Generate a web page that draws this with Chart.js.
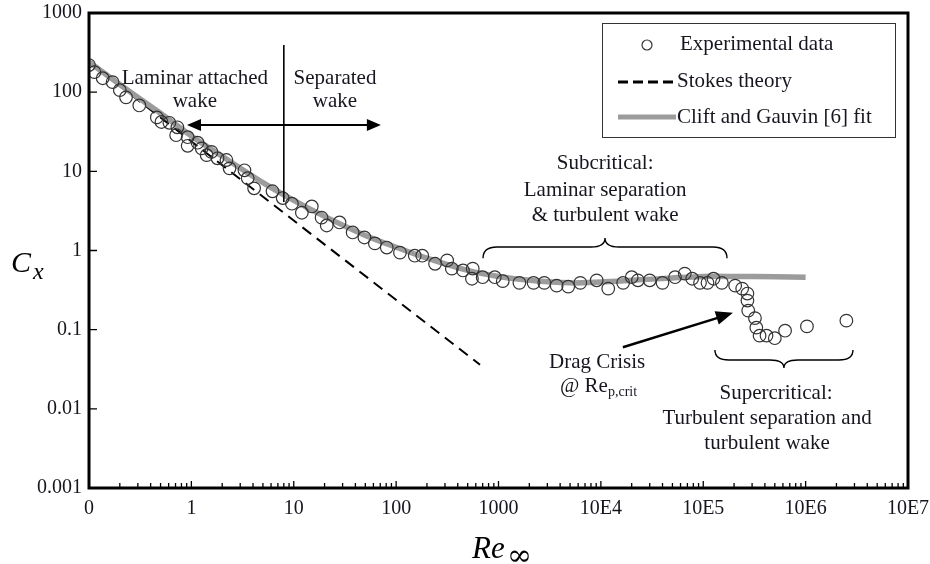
<!DOCTYPE html>
<html>
<head>
<meta charset="utf-8">
<script src="https://cdn.jsdelivr.net/npm/chart.js@4.4.1/dist/chart.umd.min.js"></script>
<style>
    html, body { margin: 0; background: #fff; }
    #wrap { width: 930px; height: 564px; position: relative; }
</style>
</head>
<body>
<div id="wrap"><canvas id="chart"></canvas></div>
<script>
const expRe = [0.1, 0.113, 0.136, 0.17, 0.2, 0.23, 0.31, 0.46, 0.51, 0.61, 0.73, 0.71, 0.92, 0.92, 1.15, 1.26, 1.57, 1.41,
    1.8, 2.2, 2.36, 3.3, 3.55, 4.1, 6.2, 7.8, 9.6, 12, 15, 18.7, 21, 28, 37.6, 49, 62, 81, 109, 152, 180, 240, 315, 350,
    450, 560, 550, 700, 920, 1100, 1600, 2200, 2800, 3700, 4800, 6300, 9100, 11800, 16500, 20000, 23000, 30000, 40000,
    53000, 66000, 78000, 93000, 110000, 126000, 152000, 205000, 240000, 270000, 270000, 275000, 320000, 330000, 355000,
    415000, 500000, 630000, 1030000, 2500000];
const expCx = [220, 179, 150, 134, 106, 86, 68, 48, 42, 41, 36, 28.6, 27, 21, 23, 19.5, 17.6, 16,
    14.6, 13.9, 10.9, 10.3, 8.2, 6.1, 5.6, 4.6, 3.9, 3.0, 3.6, 2.6, 2.07, 2.26, 1.69, 1.46, 1.23, 1.09, 0.94, 0.86, 0.86, 0.68, 0.75, 0.59,
    0.56, 0.59, 0.44, 0.46, 0.46, 0.41, 0.39, 0.39, 0.39, 0.36, 0.35, 0.39, 0.42, 0.33, 0.39, 0.46, 0.42, 0.42, 0.39,
    0.46, 0.51, 0.44, 0.39, 0.39, 0.44, 0.39, 0.36, 0.33, 0.286, 0.233, 0.174, 0.14, 0.106, 0.084,
    0.084, 0.078, 0.097, 0.11, 0.13];

// Stokes theory (dashed)
const stokesRe = [0.1, 660];
const stokesCx = [240, 0.036];

// Clift and Gauvin fit (grey)
const fitRe = [0.1, 0.2, 0.5, 1, 2, 5, 10, 20, 50, 100, 200, 500, 1000, 2000, 5000, 10000, 20000, 50000, 100000, 200000, 500000, 1000000];
const fitCx = [240, 125, 54, 28, 15.5, 7.2, 4.3, 2.7, 1.55, 1.1, 0.8, 0.56, 0.47, 0.42, 0.39, 0.40, 0.42, 0.45, 0.47, 0.47, 0.465, 0.46];

// Axis ticks
const xTickValues = [0.1, 1, 10, 100, 1000, 1e4, 1e5, 1e6, 1e7];
const xTickLabels = ['0', '1', '10', '100', '1000', '10E4', '10E5', '10E6', '10E7'];
const yTickValues = [0.001, 0.01, 0.1, 1, 10, 100, 1000];
const yTickLabels = ['0.001', '0.01', '0.1', '1', '10', '100', '1000'];

const FONT = '"Liberation Serif", "DejaVu Serif", serif';
const TEXT = '#16161f';

const toPoints = (xs, ys) => xs.map((x, i) => ({ x: x, y: ys[i] }));

// Frame, inner ticks and axis titles
const framePlugin = {
    id: 'frame',
    afterDraw(chart) {
        const { ctx, chartArea: a, scales } = chart;
        ctx.save();
        ctx.strokeStyle = '#000';
        ctx.lineWidth = 1.3;
        ctx.beginPath();
        // x ticks, major + minor, pointing inwards
        xTickValues.forEach((v, i) => {
            const px = scales.x.getPixelForValue(v);
            ctx.moveTo(px, a.bottom);
            ctx.lineTo(px, a.bottom - 7);
            if (i < xTickValues.length - 1) {
                for (let m = 2; m <= 9; m++) {
                    const mx = scales.x.getPixelForValue(v * m);
                    ctx.moveTo(mx, a.bottom);
                    ctx.lineTo(mx, a.bottom - 5);
                }
            }
        });
        // y ticks
        yTickValues.forEach(v => {
            const py = scales.y.getPixelForValue(v);
            ctx.moveTo(a.left, py);
            ctx.lineTo(a.left + 8, py);
        });
        ctx.stroke();

        ctx.lineWidth = 3;
        ctx.strokeRect(a.left, a.top, a.right - a.left, a.bottom - a.top);

        // axis titles
        ctx.fillStyle = '#000';
        ctx.textBaseline = 'alphabetic';
        ctx.textAlign = 'left';
        ctx.font = 'italic 30px ' + FONT;
        ctx.fillText('C', 11, 272);
        ctx.font = 'italic 24px ' + FONT;
        ctx.fillText('x', 33, 279);
        ctx.font = 'italic 31px ' + FONT;
        ctx.fillText('Re', 472, 558);
        ctx.font = '30px "DejaVu Serif", serif';
        ctx.fillText('\u221e', 507, 565);
        ctx.restore();
    }
};

// Annotations in data coordinates
const annoTexts = [
    ['Laminar attached', 1.08, 151], ['wake', 1.08, 77],
    ['Separated', 25.3, 151], ['wake', 25.3, 77],
    ['Subcritical:', 11000, 12.4], ['Laminar separation', 11000, 5.8], ['& turbulent wake', 11000, 2.8],
    ['Drag Crisis', 9200, 0.039],
    ['Supercritical:', 514000, 0.0158], ['Turbulent separation and', 420000, 0.0075], ['turbulent wake', 420000, 0.0036]
];

function arrowHead(ctx, x0, y0, x1, y1, len, half) {
    const ang = Math.atan2(y1 - y0, x1 - x0);
    ctx.beginPath();
    ctx.moveTo(x1, y1);
    ctx.lineTo(x1 - len * Math.cos(ang) + half * Math.sin(ang), y1 - len * Math.sin(ang) - half * Math.cos(ang));
    ctx.lineTo(x1 - len * Math.cos(ang) - half * Math.sin(ang), y1 - len * Math.sin(ang) + half * Math.cos(ang));
    ctx.closePath();
    ctx.fill();
}

// curly brace between x1 and x2, tip at yTip
function brace(ctx, x1, x2, yEnd, yFlat, yTip) {
    const xm = (x1 + x2) / 2;
    const r = 14;
    ctx.beginPath();
    ctx.moveTo(x1, yEnd);
    ctx.quadraticCurveTo(x1, yFlat, x1 + r, yFlat);
    ctx.lineTo(xm - r, yFlat);
    ctx.quadraticCurveTo(xm, yFlat, xm, yTip);
    ctx.quadraticCurveTo(xm, yFlat, xm + r, yFlat);
    ctx.lineTo(x2 - r, yFlat);
    ctx.quadraticCurveTo(x2, yFlat, x2, yEnd);
    ctx.stroke();
}

const annoPlugin = {
    id: 'anno',
    afterDatasetsDraw(chart) {
        const { ctx, scales } = chart;
        const X = v => scales.x.getPixelForValue(v);
        const Y = v => scales.y.getPixelForValue(v);
        ctx.save();
        ctx.fillStyle = TEXT;
        ctx.strokeStyle = '#000';
        ctx.font = '21px ' + FONT;
        ctx.textAlign = 'center';
        ctx.textBaseline = 'middle';
        annoTexts.forEach(t => ctx.fillText(t[0], X(t[1]), Y(t[2])));

        ctx.textAlign = 'left';
        ctx.fillText('@ Re', X(3990), Y(0.0189));
        const w = ctx.measureText('@ Re').width;
        ctx.font = '14px ' + FONT;
        ctx.fillText('p,crit', X(3990) + w, Y(0.0189) + 5);

        // vertical divider
        ctx.lineWidth = 1.6;
        ctx.beginPath();
        ctx.moveTo(X(8), Y(394));
        ctx.lineTo(X(8), Y(4.1));
        ctx.stroke();

        // double arrow
        ctx.fillStyle = '#000';
        const ay = Y(38.5), ax0 = X(0.906), ax1 = X(71);
        ctx.lineWidth = 2;
        ctx.beginPath();
        ctx.moveTo(ax0 + 8, ay);
        ctx.lineTo(ax1 - 8, ay);
        ctx.stroke();
        arrowHead(ctx, ax1, ay, ax0, ay, 14, 6);
        arrowHead(ctx, ax0, ay, ax1, ay, 14, 6);

        // drag crisis arrow
        const tx0 = X(16400), ty0 = Y(0.060), tx1 = X(195000), ty1 = Y(0.163);
        ctx.lineWidth = 2.5;
        ctx.beginPath();
        ctx.moveTo(tx0, ty0);
        ctx.lineTo(tx1 - 12, ty1 + 4);
        ctx.stroke();
        arrowHead(ctx, tx0, ty0, tx1, ty1, 17, 7);

        // braces
        ctx.lineWidth = 1.4;
        brace(ctx, X(706), X(170600), Y(0.80), Y(1.107), Y(1.44));
        brace(ctx, X(130000), X(2.9e6), Y(0.0553), Y(0.0414), Y(0.0328));

        // legend
        const lx = 602, ly = 23, lw = 293, lh = 114;
        ctx.fillStyle = '#fff';
        ctx.fillRect(lx, ly, lw, lh);
        ctx.strokeStyle = '#333';
        ctx.lineWidth = 1;
        ctx.strokeRect(lx + 0.5, ly + 0.5, lw, lh);
        const ds = chart.data.datasets;
        ctx.strokeStyle = ds[0].borderColor;
        ctx.lineWidth = 1.2;
        ctx.beginPath();
        ctx.arc(647, 45, 5, 0, Math.PI * 2);
        ctx.stroke();
        ctx.strokeStyle = ds[1].borderColor;
        ctx.lineWidth = 3;
        ctx.setLineDash([10, 5]);
        ctx.beginPath();
        ctx.moveTo(618, 82);
        ctx.lineTo(676, 82);
        ctx.stroke();
        ctx.setLineDash([]);
        ctx.strokeStyle = ds[2].borderColor;
        ctx.lineWidth = 5;
        ctx.beginPath();
        ctx.moveTo(618, 117);
        ctx.lineTo(676, 117);
        ctx.stroke();
        ctx.fillStyle = TEXT;
        ctx.font = '21px ' + FONT;
        ctx.textAlign = 'left';
        ctx.textBaseline = 'middle';
        ctx.fillText(ds[0].label, 680, 44);
        ctx.fillText(ds[1].label, 677, 81);
        ctx.fillText(ds[2].label, 677, 117);
        ctx.restore();
    }
};

new Chart(document.getElementById('chart'), {
    type: 'scatter',
    data: {
        datasets: [
            {
                label: 'Experimental data',
                data: toPoints(expRe, expCx),
                showLine: false,
                pointStyle: 'circle',
                pointRadius: 6.3,
                borderColor: '#333',
                borderWidth: 1.2,
                backgroundColor: 'rgba(0,0,0,0)',
                order: 0
            },
            {
                label: 'Stokes theory',
                data: toPoints(stokesRe, stokesCx),
                showLine: true,
                pointRadius: 0,
                borderColor: '#000',
                borderWidth: 2,
                borderDash: [11, 7],
                order: 2
            },
            {
                label: 'Clift and Gauvin [6] fit',
                data: toPoints(fitRe, fitCx),
                showLine: true,
                pointRadius: 0,
                borderColor: '#9c9c9c',
                borderWidth: 5.5,
                tension: 0.3,
                order: 1
            }
        ]
    },
    options: {
        responsive: true,
        maintainAspectRatio: false,
        animation: false,
        layout: { padding: { top: 13, right: 22, left: 0, bottom: 0 } },
        plugins: {
            legend: { display: false },
            tooltip: { enabled: false }
        },
        scales: {
            x: {
                type: 'logarithmic',
                min: 0.1,
                max: 1e7,
                afterFit: s => { s.height = 76; s.paddingLeft = 0; s.paddingRight = 0; },
                afterBuildTicks: s => { s.ticks = xTickValues.map(v => ({ value: v })); },
                grid: { display: false, drawTicks: false },
                border: { display: false },
                ticks: {
                    autoSkip: false,
                    maxRotation: 0,
                    padding: 9,
                    color: TEXT,
                    font: { family: FONT, size: 20 },
                    callback: (v, i) => xTickLabels[i]
                }
            },
            y: {
                type: 'logarithmic',
                min: 0.001,
                max: 1000,
                afterFit: s => { s.width = 89; s.paddingTop = 0; s.paddingBottom = 0; },
                afterBuildTicks: s => { s.ticks = yTickValues.map(v => ({ value: v })); },
                grid: { display: false, drawTicks: false },
                border: { display: false },
                ticks: {
                    autoSkip: false,
                    padding: 7,
                    color: TEXT,
                    font: { family: FONT, size: 20 },
                    callback: (v, i) => yTickLabels[i]
                }
            }
        }
    },
    plugins: [framePlugin, annoPlugin]
});
</script>
</body>
</html>
